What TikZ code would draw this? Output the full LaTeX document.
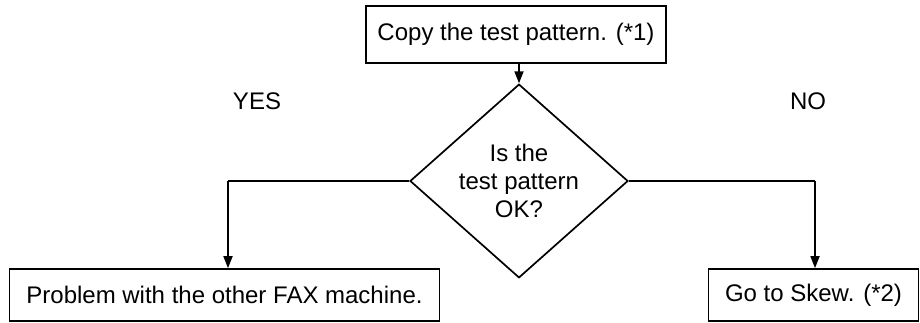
\documentclass[tikz,border=0pt]{standalone}
\usepackage{fontspec}
\setmainfont{Liberation Sans}
\usetikzlibrary{shapes.geometric,arrows.meta}
\begin{document}
\begin{tikzpicture}[x=1pt,y=-1pt,
  box/.style={draw,line width=1.7pt,inner sep=0pt,font=\fontsize{24}{28}\selectfont},
  dec/.style={draw,diamond,line width=1.7pt,minimum width=218pt,minimum height=136pt,inner sep=0pt,align=center,font=\fontsize{24}{28}\selectfont},
  lbl/.style={font=\fontsize{24}{28}\selectfont},
  conn/.style={line width=1.7pt,-{Triangle[length=12pt,width=9pt]}},
  line/.style={line width=1.7pt}]
\useasboundingbox (0,0) rectangle (920,322);
\node[box,minimum width=300pt,minimum height=57pt] (copy) at (516,34.5) {Copy the test pattern. (*1)};
\node[dec] (q) at (519,181) {Is the\\test pattern\\OK?};
\node[box,minimum width=430pt,minimum height=52pt] (prob) at (224.5,295) {Problem with the other FAX machine.};
\node[box,minimum width=210pt,minimum height=52pt] (skew) at (813.5,295) {Go to Skew. (*2)};
\coordinate (lc) at (228,181);
\coordinate (rc) at (815,181);
\draw[conn] (copy.south -| q.north) -- (q.north);
\draw[line] (q.west) -- (lc);
\draw[conn] (lc) -- (lc |- prob.north);
\draw[line] (q.east) -- (rc);
\draw[conn] (rc) -- (rc |- skew.north);
\node[lbl] (yes) at (257,101) {YES};
\node[lbl] (no) at (808,101) {NO};
\end{tikzpicture}
\end{document}
